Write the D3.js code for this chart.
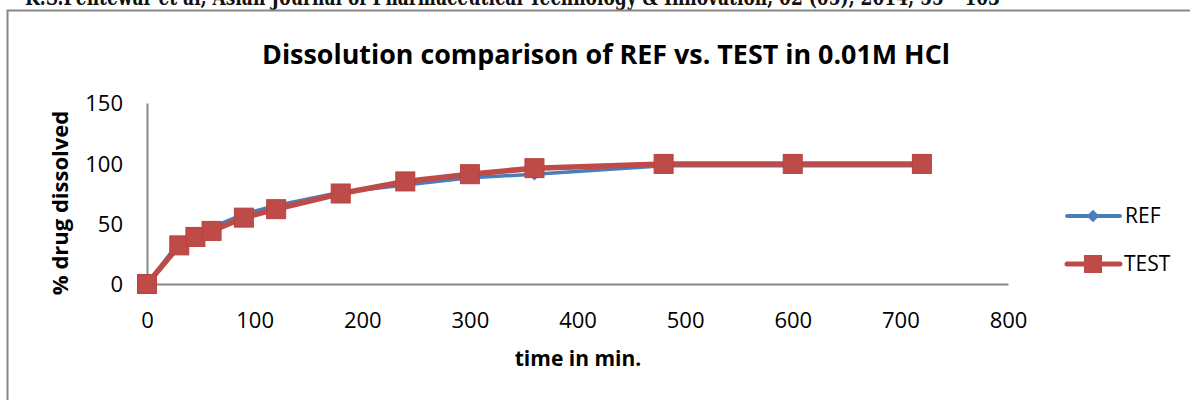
<!DOCTYPE html>
<html>
<head>
<meta charset="utf-8">
<script src="https://cdn.jsdelivr.net/npm/d3@7"></script>
<style>
  body { margin: 0; background: #fff; }
  text { font-family: "Open Sans", "Liberation Sans", sans-serif; }
</style>
</head>
<body>
<div id="chart"></div>
<script>
// data
const times = [0, 30, 45, 60, 90, 120, 180, 240, 300, 360, 480, 600, 720];
const refValues = [0, 35, 42, 47, 58, 65, 76, 82, 88, 91, 98, 98, 98];
const testValues = [0, 32, 39, 44, 55, 62, 75, 85, 91, 96, 99.5, 99.5, 99.5];
const xTicks = [0, 100, 200, 300, 400, 500, 600, 700, 800];
const yTicks = [0, 50, 100, 150];

const config = {
  width: 1190,
  height: 400,
  plot: {left: 147, right: 1008, top: 103, bottom: 284}
};

const svg = d3.select('#chart').append('svg')
    .attr('width', config.width)
    .attr('height', config.height);

// journal header, cut off at the top of the page
svg.append('text')
    .attr('x', 25)
    .attr('y', 5)
    .attr('textLength', 975)
    .attr('lengthAdjust', 'spacingAndGlyphs')
    .style('font-family', '"DejaVu Serif", serif')
    .style('font-weight', 'bold')
    .style('font-size', '22px')
    .attr('fill', '#111')
    .text('K.S.Pentewar et al, Asian Journal of Pharmaceutical Technology & Innovation, 02 (05), 2014; 55 – 103');

// chart frame
svg.append('path')
    .attr('d', `M7.5,${config.height} L7.5,10.5 L${config.width},10.5`)
    .attr('fill', 'none')
    .attr('stroke', '#878787')
    .attr('stroke-width', 2);

const x = d3.scaleLinear().domain([0, 800]).range([config.plot.left, config.plot.right]);
const y = d3.scaleLinear().domain([0, 150]).range([config.plot.bottom, config.plot.top]);

// title
svg.append('text')
    .attr('x', 606)
    .attr('y', 64)
    .attr('text-anchor', 'middle')
    .style('font-weight', 'bold')
    .style('font-size', '26px')
    .attr('textLength', 688)
    .attr('lengthAdjust', 'spacingAndGlyphs')
    .text('Dissolution comparison of REF vs. TEST in 0.01M HCl');

// axes
const xAxis = svg.append('g')
    .attr('transform', `translate(0,${y(0)})`)
    .call(d3.axisBottom(x).tickValues(xTicks).tickSize(0).tickPadding(36));
const yAxis = svg.append('g')
    .attr('transform', `translate(${x(0)},0)`)
    .call(d3.axisLeft(y).tickValues(yTicks).tickSize(0).tickPadding(24));

[xAxis, yAxis].forEach(g => {
  g.select('.domain').attr('stroke', '#868686').attr('stroke-width', 2);
  g.selectAll('text')
      .attr('fill', '#000')
      .style('font-family', '"Open Sans", sans-serif')
      .style('font-size', '22px');
});
xAxis.selectAll('text').attr('dy', '0.35em');
yAxis.selectAll('text').attr('dy', '0.35em');

// axis titles
svg.append('text')
    .attr('x', 578)
    .attr('y', 366)
    .attr('text-anchor', 'middle')
    .style('font-weight', 'bold')
    .style('font-size', '21px')
    .text('time in min.');

svg.append('text')
    .attr('transform', 'translate(68,203) rotate(-90)')
    .attr('text-anchor', 'middle')
    .style('font-weight', 'bold')
    .style('font-size', '22px')
    .text('% drug dissolved');

const line = d3.line()
    .x(d => x(d[0]))
    .y(d => y(d[1]));

const refPts = times.map((t, i) => [t, refValues[i]]);
const testPts = times.map((t, i) => [t, testValues[i]]);

// REF series
svg.append('path')
    .datum(refPts)
    .attr('d', line)
    .attr('fill', 'none')
    .attr('stroke', '#4A7EBB')
    .attr('stroke-width', 3.5)
    .attr('stroke-linejoin', 'round');

const diamond = d3.symbol().type(d3.symbolSquare).size(80);
svg.append('g').selectAll('path')
    .data(refPts)
  .join('path')
    .attr('d', diamond)
    .attr('transform', d => `translate(${x(d[0])},${y(d[1])}) rotate(45)`)
    .attr('fill', '#4A7EBB');

// TEST series
svg.append('path')
    .datum(testPts)
    .attr('d', line)
    .attr('fill', 'none')
    .attr('stroke', '#BE4B48')
    .attr('stroke-width', 5.5)
    .attr('stroke-linejoin', 'round');

svg.append('g').selectAll('rect')
    .data(testPts)
  .join('rect')
    .attr('x', d => x(d[0]) - 9.5)
    .attr('y', d => y(d[1]) - 9.5)
    .attr('width', 19)
    .attr('height', 19)
    .attr('fill', '#BE4B48')
    .attr('stroke', '#B9423F')
    .attr('stroke-width', 1);

// legend
const legend = svg.append('g').attr('class', 'legend');

const refLeg = legend.append('g').attr('transform', 'translate(0,216)');
refLeg.append('line')
    .attr('x1', 1067).attr('x2', 1120)
    .attr('stroke', '#4A7EBB').attr('stroke-width', 4).attr('stroke-linecap', 'round');
refLeg.append('path')
    .attr('d', diamond)
    .attr('transform', 'translate(1093,0) rotate(45)')
    .attr('fill', '#4A7EBB');
refLeg.append('text')
    .attr('x', 1125).attr('dy', '0.35em')
    .style('font-size', '21px')
    .text('REF');

const testLeg = legend.append('g').attr('transform', 'translate(0,264)');
testLeg.append('line')
    .attr('x1', 1067).attr('x2', 1120)
    .attr('stroke', '#BE4B48').attr('stroke-width', 5).attr('stroke-linecap', 'round');
testLeg.append('rect')
    .attr('x', 1084).attr('y', -9).attr('width', 18).attr('height', 18)
    .attr('fill', '#BE4B48');
testLeg.append('text')
    .attr('x', 1124).attr('dy', '0.35em')
    .style('font-size', '21px')
    .text('TEST');
</script>
</body>
</html>
